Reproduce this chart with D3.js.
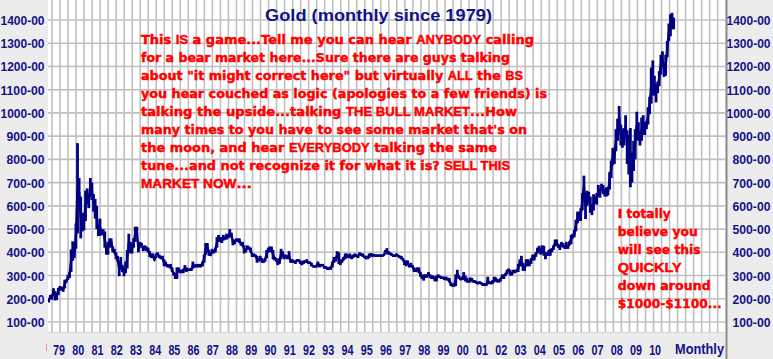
<!DOCTYPE html>
<html><head><meta charset="utf-8">
<script src="https://cdn.jsdelivr.net/npm/d3@7"></script>
<style>body{margin:0;background:#ececec;}svg{display:block}</style>
</head><body><svg id="c" width="773" height="359"></svg>
<script>
// ---- DATA (monthly high / low, Jul 1978 .. Jan 2011) ----
const firstYear = 1978, firstMonth = 6; // July 1978 (0-based month)
const high = [
 201,216,218,245,233,226,
 247,255,252,247,282,283,303,315,412,447,417,524,
 870,720,640,570,570,665,675,650,720,700,650,630,
 600,510,545,500,500,490,425,445,460,460,425,415,
 400,385,365,380,345,330,360,410,480,445,435,460,
 510,510,430,445,440,425,430,425,420,405,395,395,
 375,395,400,390,385,385,370,360,350,345,350,335,
 315,310,335,335,325,325,330,345,335,330,330,330,
 360,345,350,350,350,350,360,390,440,440,410,395,
 415,410,420,465,475,465,465,475,465,480,475,500,
 485,455,455,460,460,460,440,445,430,415,430,425,
 420,395,395,390,385,375,385,375,365,375,410,420,
 425,425,410,380,375,360,375,415,405,390,390,385,
 405,370,370,365,365,370,370,365,355,365,365,370,
 360,360,355,345,345,345,360,350,350,350,340,340,
 335,335,340,360,380,380,405,400,365,370,380,395,
 395,390,395,385,390,395,390,390,400,395,395,385,
 385,385,395,395,395,390,390,390,390,390,390,390,
 410,418,405,400,395,390,390,395,390,385,385,375,
 365,365,365,350,355,345,335,330,335,335,315,300,
 305,305,305,315,305,300,300,290,300,305,300,295,
 295,295,295,290,290,270,265,265,305,325,300,290,
 295,315,300,290,280,292,290,280,280,275,272,275,
 270,268,268,265,295,275,272,280,295,292,285,282,
 290,305,305,310,325,330,325,315,325,325,325,350,
 370,385,355,340,370,370,365,375,390,390,400,420,
 428,420,430,428,395,400,410,415,418,430,455,455,
 430,435,445,440,430,445,430,448,475,480,497,540,
 575,575,590,655,730,655,665,660,640,600,650,640,
 655,690,675,695,690,675,680,680,745,795,850,840,
 930,975,1030,950,930,935,990,925,905,935,830,880,
 930,1005,960,910,980,990,960,965,1025,1070,1195,1226,
 1160,1125,1135,1180,1250,1265,1215,1250,1310,1385,1425,1431,
 1410
];
const low = [
 184,199,196,220,193,194,
 216,236,236,230,245,270,281,289,315,364,375,415,
 481,595,460,490,495,535,606,590,640,625,575,545,
 500,470,470,475,475,420,390,390,420,430,400,395,
 370,360,297,325,315,297,310,330,410,395,395,420,
 445,470,400,420,425,405,410,405,400,380,375,375,
 365,375,385,375,370,370,340,340,335,335,330,315,
 300,285,285,315,310,310,310,320,315,320,320,320,
 330,335,335,335,335,335,340,355,390,405,385,385,
 395,395,400,420,445,445,440,450,455,455,460,465,
 465,430,435,445,445,440,430,425,395,400,410,410,
 400,380,380,380,355,360,365,355,355,360,375,400,
 400,405,370,365,360,345,350,370,380,370,375,370,
 370,355,355,355,350,360,360,350,345,350,355,355,
 350,350,340,335,335,335,345,335,340,340,330,330,
 325,325,325,335,355,360,375,350,345,355,365,370,
 375,375,375,370,375,380,380,375,385,385,380,375,
 370,370,375,385,380,385,380,380,380,380,380,385,
 390,395,390,390,385,380,380,385,380,375,370,365,
 345,340,345,335,335,335,315,315,315,310,295,285,
 278,290,290,300,290,285,285,275,275,290,290,285,
 285,280,280,278,270,255,252,252,255,290,285,280,
 280,282,275,270,270,270,275,270,268,264,262,265,
 262,255,255,255,262,265,262,265,270,275,270,270,
 275,288,285,298,305,315,300,300,310,310,315,315,
 340,340,320,320,340,340,340,350,365,365,380,395,
 400,390,395,385,370,385,385,385,400,410,425,430,
 420,410,425,420,415,415,415,430,435,460,465,490,
 525,535,535,580,640,543,600,610,570,560,580,610,
 605,640,635,670,650,640,640,645,670,720,775,780,
 835,880,930,860,850,860,900,780,735,680,700,750,
 800,890,880,860,880,905,905,930,950,995,1040,1075,
 1075,1045,1085,1115,1165,1200,1155,1160,1240,1310,1330,1360,
 1360
];
const yTicks = [100,200,300,400,500,600,700,800,900,1000,1100,1200,1300,1400];
const yTickLabels = yTicks.map(v => v + "-00");
const yearTicks = d3.range(1979, 2011);
const yearLabels = ["79","80","81","82","83","84","85","86","87","88","89","90","91","92","93","94","95","96","97","98","99","00","01","02","03","04","05","06","07","08","09","10"];
const title = "Gold (monthly since 1979)";
const noteLines = [
 "This *IS* a game...Tell me you can hear *ANYBODY* calling",
 "for a bear market here...Sure there are guys talking",
 "about \"it might correct here\" but virtually *ALL* the *BS*",
 "you hear couched as logic (apologies to a few friends) is",
 "talking the upside...talking *THE BULL MARKET*...How",
 "many times to you have to see some market that's on",
 "the moon, and hear *EVERYBODY* talking the same",
 "tune...and not recognize it for what it is? *SELL THIS*",
 "*MARKET NOW*..."
];
const sideLines = ["I totally","believe you","will see this","*QUICKLY*","down around","$1000-$1100..."];

// ---- LAYOUT ----
const W = 773, H = 359;
const plot = {l:48, r:725, t:0, b:332};
const svg = d3.select("#c");
const navy = "#000080", blueTxt = "#12128a", red = "#ff0000";

const x = d3.scaleLinear().domain([1979, 2011]).range([57.5, 57.5 + 32*19.23]);
const y = d3.scaleLinear().domain([100, 1400]).range([322, 20]);

svg.append("rect").attr("width", W).attr("height", H).attr("fill", "#ececec");
svg.append("rect").attr("x", plot.l).attr("y", plot.t).attr("width", plot.r-plot.l).attr("height", plot.b-plot.t).attr("fill", "#fff");

// grid
const grid = svg.append("g").attr("stroke", "#c0c0c0").attr("stroke-width", 1.6);
grid.selectAll("line.v").data(d3.range(52, plot.r, 8.02)).join("line")
  .attr("x1", d=>d).attr("x2", d=>d).attr("y1", plot.t).attr("y2", plot.b);
grid.selectAll("line.h").data(yTicks).join("line")
  .attr("x1", plot.l).attr("x2", plot.r).attr("y1", d=>y(d)).attr("y2", d=>y(d));

svg.append("line").attr("x1", plot.l).attr("x2", plot.r).attr("y1", plot.b+0.5).attr("y2", plot.b+0.5).attr("stroke", "#d6d6d6");
svg.append("line").attr("x1", 726.5).attr("x2", 726.5).attr("y1", 0).attr("y2", H).attr("stroke", "#8c8c8c").attr("stroke-width", 2);

// data
svg.append("clipPath").attr("id", "cp").append("rect")
  .attr("x", plot.l).attr("y", plot.t).attr("width", plot.r-plot.l).attr("height", plot.b-plot.t);
const months = high.map((h, i) => ({t: firstYear + (firstMonth + i + 0.5)/12, h, l: low[i]}));
const dg = svg.append("g").attr("clip-path", "url(#cp)");
dg.append("path").datum(months)
  .attr("d", d3.line().x(d=>x(d.t)).y(d=>y((d.h+d.l)/2)))
  .attr("fill", "none").attr("stroke", navy).attr("stroke-width", 2.4);
dg.selectAll("line.bar").data(months).join("line")
  .attr("x1", d=>x(d.t)).attr("x2", d=>x(d.t))
  .attr("y1", d=>y(d.h)).attr("y2", d=>y(d.l))
  .attr("stroke", navy).attr("stroke-width", 2.8);

// axes labels
const axisFont = "'Liberation Sans', Arial, sans-serif";
function yLab(rightEdge){
  svg.append("g").selectAll("text").data(yTicks).join("text")
    .attr("x", (d,i)=> rightEdge - (yTickLabels[i].length===7 ? 44 : 38))
    .attr("y", d=>y(d)+5)
    .attr("font-family", axisFont).attr("font-weight", "bold")
    .attr("font-size", 13).attr("fill", blueTxt)
    .attr("textLength", (d,i)=> yTickLabels[i].length===7 ? 44 : 38)
    .attr("lengthAdjust", "spacingAndGlyphs")
    .text((d,i)=>yTickLabels[i]);
}
yLab(44.5); yLab(770.5);

svg.append("g").selectAll("text").data(yearTicks).join("text")
  .attr("x", d=>x(d)+1.5-6).attr("y", 355)
  .attr("font-family", axisFont).attr("font-weight", "bold")
  .attr("font-size", 14).attr("fill", blueTxt)
  .attr("textLength", 12).attr("lengthAdjust", "spacingAndGlyphs")
  .text((d,i)=>yearLabels[i]);
svg.append("text").attr("x", 675).attr("y", 353.5).attr("font-family", axisFont)
  .attr("font-weight", "bold").attr("font-size", 14).attr("fill", blueTxt)
  .attr("textLength", 49).attr("lengthAdjust", "spacingAndGlyphs").text("Monthly");
svg.append("line").attr("x1", 46.5).attr("x2", 46.5).attr("y1", 344).attr("y2", 351).attr("stroke", "#e89090");

// title
svg.append("text").attr("x", 378.5 - 113.5).attr("y", 20.5)
  .attr("font-family", axisFont).attr("font-weight", "bold").attr("font-size", 17)
  .attr("fill", blueTxt).attr("textLength", 227).attr("lengthAdjust", "spacingAndGlyphs").text(title);

// notes
function note(lines, x0, y0, widths){
  lines.forEach((ln, i) => {
    const t = svg.append("text").attr("x", x0).attr("y", y0 + i*18)
      .attr("fill", red).attr("stroke", red).attr("stroke-width", 0.45)
      .attr("font-weight", "bold").attr("font-size", 13)
      .attr("textLength", widths[i]).attr("lengthAdjust", "spacingAndGlyphs")
      .style("white-space", "pre");
    ln.split("*").forEach((seg, k) => {
      if (!seg) return;
      t.append("tspan")
        .attr("font-family", k % 2 ? "'Liberation Sans', Arial, sans-serif" : "'DejaVu Sans', Verdana, sans-serif")
        .text(seg);
    });
  });
}
note(noteLines, 141, 43.5, [393,369,382,406,376,386,356,369,111]);
note(sideLines, 617.7, 217.5, [53,80,83,64,93,104]);
</script>
</body></html>
